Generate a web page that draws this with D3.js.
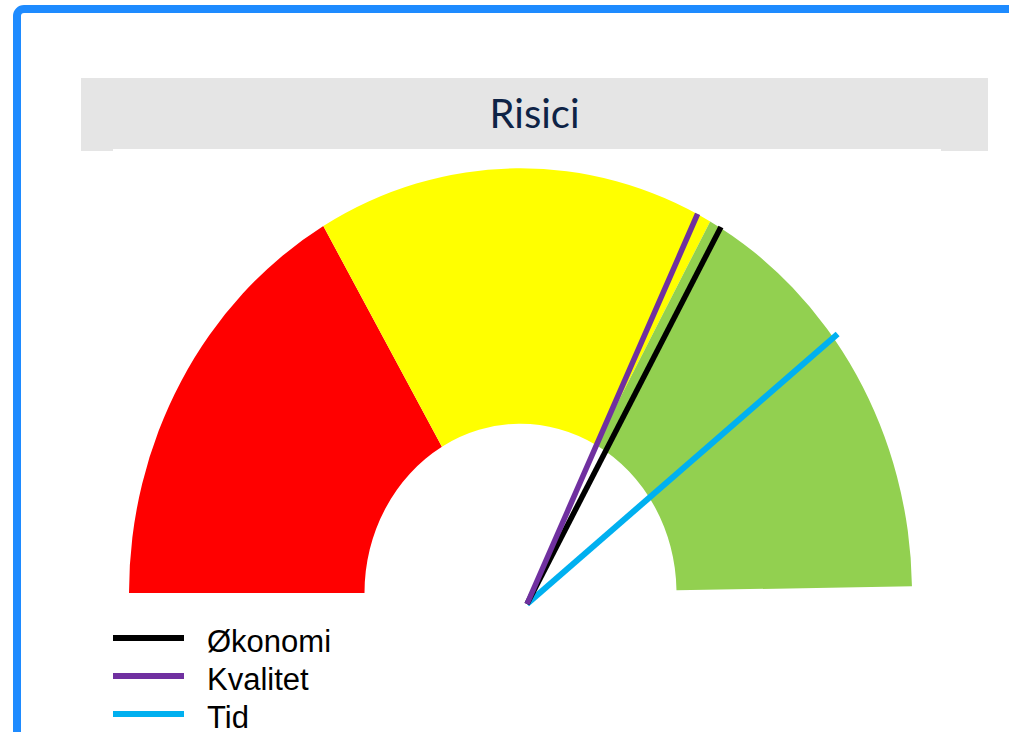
<!DOCTYPE html>
<html>
<head>
<meta charset="utf-8">
<script src="https://cdn.jsdelivr.net/npm/d3@7"></script>
<style>
  body { margin: 0; background: #fff; }
  svg { display: block; }
</style>
</head>
<body>
<div id="chart"></div>
<script>
//Width and height
var w = 1009;
var h = 732;

//Data
var title = "Risici";
var bandStarts = [0, 33.2, 66.1];
var bandEnds = [33.2, 66.1, 99.5];
var bandColors = ["#ff0000", "#ffff00", "#92d050"];
var seriesNames = ["Økonomi", "Kvalitet", "Tid"];
var seriesValues = [66.2, 64.1, 78.5];
var seriesColors = ["#000000", "#7030a0", "#00b0f0"];

//Gauge layout
var cx = 520.5, cy = 593;
var rOuter = 391.5, rInner = 156;
var squash = 1.085;          //gauge is drawn a bit taller than wide
var pivotX = 527, pivotY = 604;
var needleLen = 398;

//Scale: value -> angle (0 at left, 100 at right)
var angle = d3.scaleLinear()
  .domain([0, 100])
  .range([-Math.PI / 2, Math.PI / 2]);

var svg = d3.select("#chart")
  .append("svg")
  .attr("width", w)
  .attr("height", h);

//Blue frame
svg.append("rect")
  .attr("x", 17)
  .attr("y", 9)
  .attr("width", 1200)
  .attr("height", 1000)
  .attr("rx", 7)
  .attr("fill", "none")
  .attr("stroke", "#1e8bff")
  .attr("stroke-width", 8);

//Title bar
svg.append("rect")
  .attr("x", 81).attr("y", 78)
  .attr("width", 907).attr("height", 71)
  .attr("fill", "#e5e5e5");
svg.append("rect")
  .attr("x", 81).attr("y", 148)
  .attr("width", 32).attr("height", 3)
  .attr("fill", "#e5e5e5");
svg.append("rect")
  .attr("x", 941).attr("y", 148)
  .attr("width", 47).attr("height", 3)
  .attr("fill", "#e5e5e5");

svg.append("text")
  .attr("x", 534.5)
  .attr("y", 128)
  .attr("text-anchor", "middle")
  .attr("font-family", "Lato, 'Open Sans', sans-serif")
  .attr("font-size", 40)
  .attr("fill", "#0e2346")
  .text(title);

//Bands
var arc = d3.arc()
  .innerRadius(rInner)
  .outerRadius(rOuter);

svg.append("g")
  .attr("transform", "translate(" + cx + "," + cy + ") scale(1," + squash + ")")
  .selectAll("path")
  .data(bandStarts)
  .enter()
  .append("path")
  .attr("d", function(d, i) {
    return arc({ startAngle: angle(d), endAngle: angle(bandEnds[i]) });
  })
  .attr("fill", function(d, i) { return bandColors[i]; });

//Needles (drawn back to front: Tid, Økonomi, Kvalitet)
var order = [2, 0, 1];
svg.append("g")
  .selectAll("line")
  .data(order)
  .enter()
  .append("line")
  .attr("x1", pivotX)
  .attr("y1", pivotY)
  .attr("x2", function(i) { return pivotX + needleLen * Math.sin(angle(seriesValues[i])); })
  .attr("y2", function(i) { return pivotY - needleLen * Math.cos(angle(seriesValues[i])) * squash; })
  .attr("stroke", function(i) { return seriesColors[i]; })
  .attr("stroke-width", function(i) { return i == 2 ? 6 : 5.5; });

//Legend
var legend = svg.append("g")
  .selectAll("g")
  .data(seriesNames)
  .enter()
  .append("g")
  .attr("transform", function(d, i) { return "translate(113," + (638 + i * 38) + ")"; });

legend.append("line")
  .attr("x1", 0).attr("x2", 71)
  .attr("y1", 0).attr("y2", 0)
  .attr("stroke", function(d, i) { return seriesColors[i]; })
  .attr("stroke-width", 6);

legend.append("text")
  .attr("x", 94)
  .attr("y", 14)
  .attr("font-family", "'Liberation Sans', Arial, sans-serif")
  .attr("font-size", 31)
  .attr("fill", "#000")
  .text(function(d) { return d; });
</script>
</body>
</html>
